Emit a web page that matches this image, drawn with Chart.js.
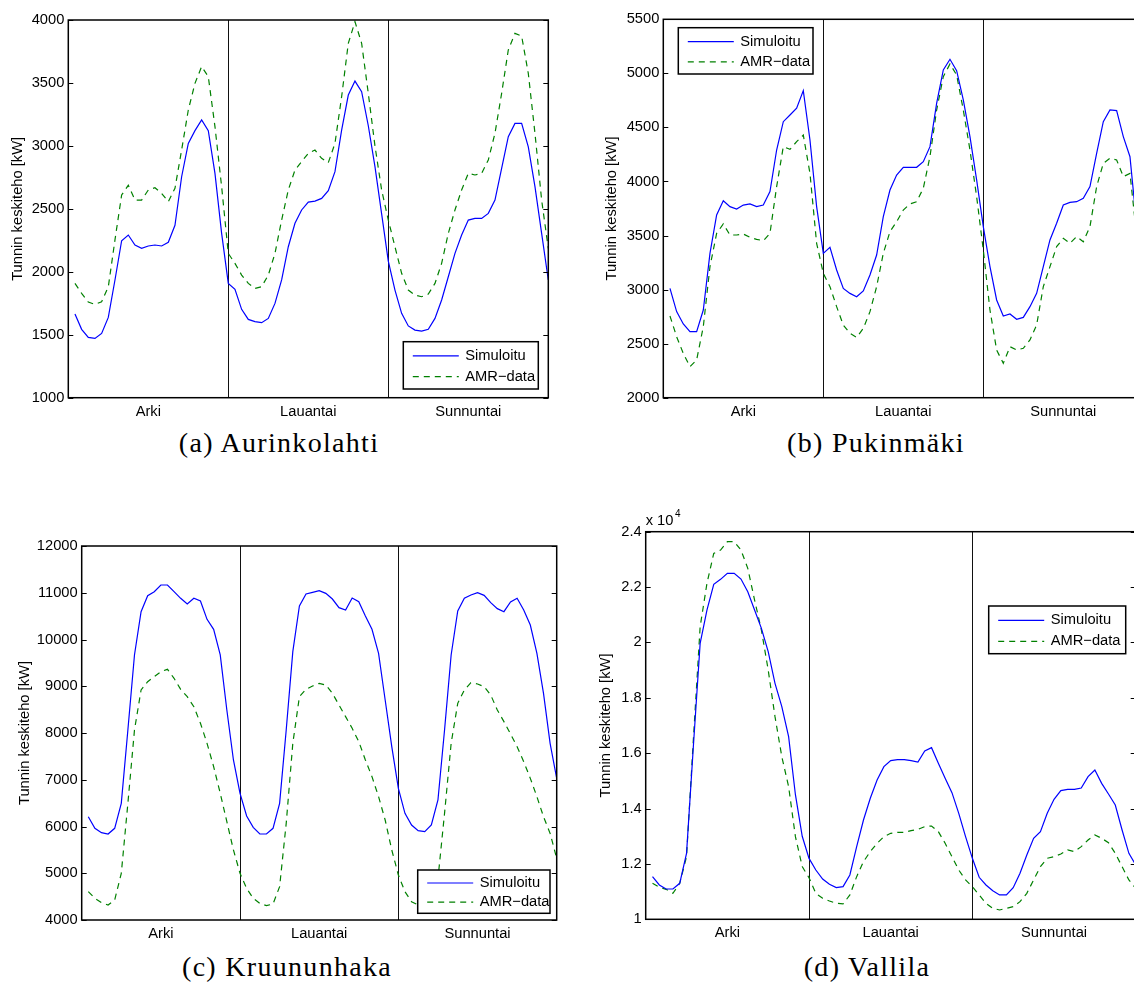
<!DOCTYPE html>
<html>
<head>
<meta charset="utf-8">
<script src="https://cdn.jsdelivr.net/npm/chart.js@4.4.1/dist/chart.umd.min.js"></script>
<style>
  html, body { margin: 0; padding: 0; background: #fff; overflow: hidden; }
  body { width: 1134px; height: 984px; position: relative; }
  canvas { position: absolute; }
  .caption {
    position: absolute;
    font-family: "Liberation Serif", serif;
    font-size: 28px;
    line-height: 28px;
    letter-spacing: 1.3px;
    color: #000;
    white-space: nowrap;
    transform: translateX(-50%);
  }
</style>
</head>
<body>
<canvas id="chartA" width="560" height="425" style="left:0px;top:0px"></canvas>
<canvas id="chartB" width="560" height="425" style="left:600px;top:0px"></canvas>
<canvas id="chartC" width="570" height="425" style="left:0px;top:520px"></canvas>
<canvas id="chartD" width="560" height="445" style="left:590px;top:500px"></canvas>

<div class="caption" style="left:279px;top:429px">(a) Aurinkolahti</div>
<div class="caption" style="left:876px;top:429px">(b) Pukinmäki</div>
<div class="caption" style="left:287px;top:953px">(c) Kruununhaka</div>
<div class="caption" style="left:867px;top:953px">(d) Vallila</div>

<script>
// hourly averages over three day types (24 h each)
const hours = Array.from({ length: 72 }, (v, k) => k + 1);
const dayLabels = ["Arki", "Lauantai", "Sunnuntai"];

const aurinkolahtiSim = [
  1665, 1543, 1479, 1471, 1511, 1638, 1935, 2247, 2292, 2213, 2186, 2205, 2213, 2205, 2234, 2369, 2755, 3020, 3121, 3206, 3121, 2782, 2305, 1908,
  1860, 1702, 1622, 1604, 1596, 1630, 1749, 1935, 2199, 2385, 2491, 2554, 2562, 2583, 2644, 2795, 3126, 3404, 3515, 3431, 3160, 2835, 2460, 2085,
  1855, 1670, 1570, 1537, 1529, 1543, 1630, 1776, 1961, 2146, 2292, 2411, 2424, 2424, 2464, 2570, 2822, 3073, 3179, 3179, 2993, 2676, 2305, 1935,
];
const aurinkolahtiAmr = [
  1908, 1829, 1760, 1741, 1762, 1880, 2253, 2610, 2687, 2570, 2570, 2650, 2668, 2623, 2557, 2663, 2968, 3285, 3497, 3630, 3550, 3153, 2676, 2146,
  2067, 1974, 1908, 1868, 1882, 1974, 2146, 2411, 2650, 2808, 2875, 2941, 2967, 2901, 2867, 3020, 3391, 3815, 3987, 3815, 3417, 3000, 2650, 2411,
  2199, 1988, 1855, 1815, 1802, 1823, 1908, 2067, 2305, 2491, 2650, 2782, 2769, 2782, 2888, 3100, 3417, 3762, 3894, 3873, 3576, 3100, 2570, 2186,
];

const pukinmakiSim = [
  3011, 2796, 2682, 2611, 2611, 2811, 3335, 3690, 3822, 3767, 3745, 3782, 3792, 3767, 3782, 3906, 4291, 4553, 4615, 4677, 4840, 4384, 3767, 3335,
  3391, 3181, 3011, 2965, 2934, 2987, 3135, 3320, 3674, 3921, 4060, 4131, 4131, 4131, 4183, 4322, 4723, 5031, 5130, 5025, 4754, 4415, 4014, 3582,
  3212, 2904, 2756, 2774, 2725, 2743, 2842, 2965, 3212, 3459, 3613, 3782, 3807, 3813, 3844, 3952, 4260, 4553, 4661, 4655, 4415, 4229, 3600, 3300,
];
const pukinmakiAmr = [
  2756, 2564, 2410, 2287, 2349, 2657, 3212, 3520, 3607, 3505, 3505, 3514, 3483, 3465, 3452, 3520, 3952, 4322, 4297, 4368, 4430, 4075, 3428, 3150,
  3027, 2842, 2672, 2595, 2558, 2641, 2796, 3027, 3335, 3536, 3628, 3736, 3792, 3813, 3937, 4230, 4661, 4970, 5087, 4985, 4661, 4291, 3860, 3366,
  2811, 2441, 2318, 2472, 2441, 2457, 2534, 2672, 3027, 3212, 3397, 3474, 3428, 3490, 3443, 3582, 3952, 4168, 4214, 4199, 4045, 4075, 3500, 3200,
];

const kruununhakaSim = [
  6210, 5961, 5868, 5840, 5961, 6496, 8064, 9669, 10595, 10938, 11023, 11166, 11166, 11023, 10881, 10759, 10881, 10824, 10431, 10218, 9669, 8492, 7423, 6710,
  6225, 5982, 5840, 5840, 5961, 6496, 8064, 9740, 10717, 10973, 11009, 11045, 10987, 10866, 10681, 10631, 10888, 10809, 10503, 10218, 9704, 8706, 7708, 6817,
  6282, 6032, 5911, 5890, 6032, 6567, 8064, 9669, 10610, 10881, 10952, 11002, 10945, 10788, 10660, 10595, 10802, 10881, 10631, 10310, 9704, 8848, 7779, 7030,
];
const kruununhakaAmr = [
  4606, 4464, 4371, 4321, 4428, 4998, 6496, 8064, 8920, 9098, 9205, 9312, 9362, 9170, 8934, 8777, 8563, 8207, 7779, 7280, 6710, 6104, 5498, 4998,
  4677, 4464, 4357, 4307, 4343, 4713, 6068, 7779, 8777, 8934, 9005, 9062, 9027, 8849, 8599, 8350, 8100, 7815, 7423, 7066, 6638, 6139, 5498, 4963,
  4606, 4392, 4321, 4300, 4390, 4880, 6282, 7779, 8635, 8920, 9077, 9048, 8991, 8813, 8492, 8243, 7979, 7708, 7387, 7030, 6638, 6210, 5854, 5319,
];

const vallilaSim = [
  11541, 11240, 11095, 11095, 11300, 12383, 16235, 19967, 21171, 22098, 22279, 22495, 22495, 22291, 21833, 21171, 20509, 19666, 18523, 17680, 16597, 14500, 13000, 12200,
  11781, 11456, 11264, 11143, 11180, 11601, 12624, 13587, 14370, 15032, 15513, 15730, 15766, 15766, 15730, 15682, 16079, 16199, 15634, 15092, 14574, 13828, 12985, 12203,
  11517, 11240, 11035, 10879, 10879, 11143, 11661, 12323, 12925, 13166, 13828, 14334, 14647, 14695, 14695, 14743, 15152, 15393, 14911, 14526, 14129, 13226, 12383, 11962,
];
const vallilaAmr = [
  11300, 11155, 11083, 10939, 11300, 12263, 16476, 20569, 22134, 23217, 23338, 23639, 23639, 23338, 22676, 21532, 20449, 19004, 17319, 15874, 14791, 12985, 11902, 11500,
  10939, 10758, 10662, 10578, 10554, 10879, 11541, 12082, 12444, 12745, 12985, 13106, 13142, 13142, 13202, 13250, 13346, 13370, 13166, 12745, 12263, 11781, 11420, 11180,
  10879, 10578, 10397, 10337, 10397, 10458, 10638, 10939, 11420, 11902, 12203, 12263, 12359, 12504, 12444, 12624, 12865, 13045, 12925, 12769, 12383, 11902, 11420, 11119,
];

const FONT = "Liberation Sans";
const FONT_SIZE = 14.7;

// axes box, inward y ticks and the optional "x 10^4" multiplier
const axesFrame = {
  id: "axesFrame",
  afterDatasetsDraw(chart, args, opts) {
    const { ctx, chartArea: a, scales } = chart;
    const y = scales.y;
    ctx.save();
    ctx.strokeStyle = "#000";
    ctx.lineWidth = 1;
    ctx.beginPath();
    y.ticks.forEach((t) => {
      const py = Math.round(y.getPixelForValue(t.value)) + 0.5;
      ctx.moveTo(a.left, py);
      ctx.lineTo(a.left + 5, py);
      ctx.moveTo(a.right, py);
      ctx.lineTo(a.right - 5, py);
    });
    ctx.stroke();
    ctx.lineWidth = 1.5;
    ctx.strokeRect(a.left, a.top, a.right - a.left, a.bottom - a.top);
    if (opts.exponent) {
      ctx.fillStyle = "#000";
      ctx.textBaseline = "middle";
      ctx.textAlign = "left";
      ctx.font = FONT_SIZE + "px '" + FONT + "'";
      ctx.fillText("x 10", a.left, a.top - 11);
      const w = ctx.measureText("x 10").width;
      ctx.font = "10px '" + FONT + "'";
      ctx.fillText(opts.exponent, a.left + w + 1.5, a.top - 17);
    }
    ctx.restore();
  },
};

// boxed legend placed inside the plot
const boxLegend = {
  id: "boxLegend",
  afterDraw(chart, args, opts) {
    const { ctx, chartArea: a } = chart;
    const x = opts.right != null ? a.right - opts.right - opts.w : a.left + opts.left;
    const y = opts.bottom != null ? a.bottom - opts.bottom - opts.h : a.top + opts.top;
    ctx.save();
    ctx.fillStyle = "#fff";
    ctx.fillRect(x, y, opts.w, opts.h);
    ctx.lineWidth = 1.5;
    ctx.strokeStyle = "#000";
    ctx.strokeRect(x, y, opts.w, opts.h);
    chart.data.datasets.forEach((ds, k) => {
      const ry = y + opts.h * (k === 0 ? 0.3 : 0.74);
      ctx.beginPath();
      ctx.setLineDash(ds.borderDash || []);
      ctx.strokeStyle = ds.borderColor;
      ctx.lineWidth = ds.borderWidth;
      ctx.moveTo(x + 9.5, ry);
      ctx.lineTo(x + 55.5, ry);
      ctx.stroke();
      ctx.setLineDash([]);
      ctx.fillStyle = "#000";
      ctx.font = FONT_SIZE + "px '" + FONT + "'";
      ctx.textBaseline = "middle";
      ctx.textAlign = "left";
      ctx.fillText(ds.label, x + 62, ry);
    });
    ctx.restore();
  },
};

function drawPanel(p) {
  const canvas = document.getElementById(p.id);
  const cw = canvas.width;
  const ch = canvas.height;
  const area = {
    left: p.area.left - p.left,
    top: p.area.top - p.top,
    right: p.area.right - p.left,
    bottom: p.area.bottom - p.top,
  };
  const tickFont = { family: FONT, size: FONT_SIZE };

  return new Chart(canvas, {
    type: "line",
    data: {
      labels: hours,
      datasets: [
        {
          label: "Simuloitu",
          data: p.sim,
          borderColor: "#0000ff",
          borderWidth: 1.2,
          pointRadius: 0,
          tension: 0,
          fill: false,
        },
        {
          label: "AMR\u2212data",
          data: p.amr,
          borderColor: "#008000",
          borderWidth: 1.2,
          borderDash: [6, 5],
          pointRadius: 0,
          tension: 0,
          fill: false,
        },
      ],
    },
    options: {
      responsive: false,
      animation: false,
      events: [],
      layout: { padding: { top: area.top, right: cw - area.right, left: 0, bottom: 0 } },
      plugins: {
        legend: { display: false },
        tooltip: { enabled: false },
        boxLegend: p.legend,
        axesFrame: { exponent: p.exponent },
      },
      scales: {
        x: {
          type: "linear",
          min: 0,
          max: 72,
          afterFit: (s) => { s.height = ch - area.bottom; },
          afterBuildTicks: (s) => { s.ticks = [12, 24, 36, 48, 60].map((v) => ({ value: v })); },
          ticks: {
            autoSkip: false,
            maxRotation: 0,
            padding: 5,
            color: "#000",
            font: tickFont,
            callback: (v) => (v % 24 === 12 ? dayLabels[(v - 12) / 24] : ""),
          },
          grid: {
            drawTicks: false,
            lineWidth: 1,
            color: (c) => (c.tick && c.tick.value % 24 === 0 ? "#111" : "rgba(0,0,0,0)"),
          },
          border: { display: false },
        },
        y: {
          min: p.yMin,
          max: p.yMax,
          afterFit: (s) => { s.width = area.left; },
          ticks: {
            stepSize: p.yStep,
            padding: 4,
            color: "#000",
            font: tickFont,
            callback: p.yFormat || ((v) => String(v)),
          },
          grid: { display: false, drawTicks: false },
          border: { display: false },
          title: {
            display: true,
            text: "Tunnin keskiteho [kW]",
            color: "#000",
            font: tickFont,
            padding: { top: p.titlePad, bottom: 0 },
          },
        },
      },
    },
    plugins: [axesFrame, boxLegend],
  });
}

drawPanel({
  id: "chartA", left: 0, top: 0,
  area: { left: 68.3, top: 20, right: 548.3, bottom: 397.7 },
  yMin: 1000, yMax: 4000, yStep: 500, titlePad: 8.7,
  sim: aurinkolahtiSim, amr: aurinkolahtiAmr,
  legend: { right: 10, bottom: 8.7, w: 135, h: 47.3 },
});

drawPanel({
  id: "chartB", left: 600, top: 0,
  area: { left: 663.3, top: 19.3, right: 1143.3, bottom: 397.7 },
  yMin: 2000, yMax: 5500, yStep: 500, titlePad: 2.7,
  sim: pukinmakiSim, amr: pukinmakiAmr,
  legend: { left: 15, top: 8.4, w: 134.7, h: 46.3 },
});

drawPanel({
  id: "chartC", left: 0, top: 520,
  area: { left: 81.7, top: 546, right: 556.7, bottom: 920 },
  yMin: 4000, yMax: 12000, yStep: 1000, titlePad: 15.7,
  sim: kruununhakaSim, amr: kruununhakaAmr,
  legend: { right: 6.7, bottom: 6.7, w: 132.3, h: 43.3 },
});

drawPanel({
  id: "chartD", left: 590, top: 500,
  area: { left: 645.7, top: 531.7, right: 1135.7, bottom: 919.3 },
  yMin: 10000, yMax: 24000, yStep: 2000, titlePad: 6.8,
  sim: vallilaSim, amr: vallilaAmr,
  yFormat: (v) => String(Math.round(v / 1000) / 10),
  exponent: "4",
  legend: { right: 10, top: 74.3, w: 137, h: 47.7 },
});
</script>
</body>
</html>
